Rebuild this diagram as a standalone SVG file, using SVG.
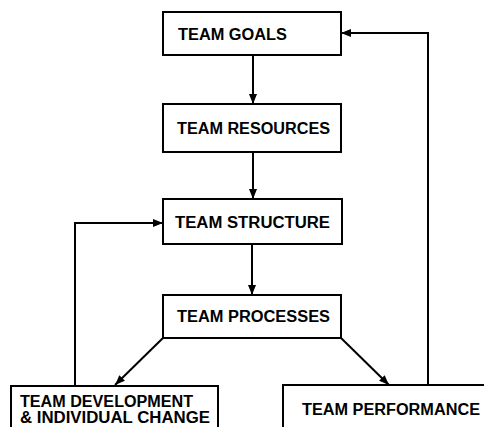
<svg xmlns="http://www.w3.org/2000/svg" width="484" height="427" viewBox="0 0 484 427">
<style>
.box{fill:#fff;stroke:#000;stroke-width:2}
.lbl{font-family:"Liberation Sans",Arial,sans-serif;font-weight:bold;font-size:16px;fill:#000}
.con{fill:none;stroke:#000;stroke-width:2}
</style>
<defs>
<marker id="ah" viewBox="0 0 10 8" refX="10" refY="4" markerWidth="10" markerHeight="8" markerUnits="userSpaceOnUse" orient="auto">
<path d="M0,0 L10,4 L0,8 Z" fill="#000"/>
</marker>
</defs>
<rect width="484" height="427" fill="#fff"/>
<g id="connectors">
<path class="con" d="M253,55 V104" marker-end="url(#ah)"/>
<path class="con" d="M253,152 V199" marker-end="url(#ah)"/>
<path class="con" d="M252,244 V295" marker-end="url(#ah)"/>
<path class="con" d="M163,338 L115,385" marker-end="url(#ah)"/>
<path class="con" d="M341,338 L389,385" marker-end="url(#ah)"/>
<path class="con" d="M75,386 V223 H163" marker-end="url(#ah)"/>
<path class="con" d="M428,385 V33 H341" marker-end="url(#ah)"/>
</g>
<g id="goals">
<rect class="box" x="163" y="12" width="178" height="43"/>
<text class="lbl" x="178" y="40" textLength="109" lengthAdjust="spacingAndGlyphs">TEAM GOALS</text>
</g>
<g id="resources">
<rect class="box" x="163" y="104" width="178" height="48"/>
<text class="lbl" x="177" y="134" textLength="153" lengthAdjust="spacingAndGlyphs">TEAM RESOURCES</text>
</g>
<g id="structure">
<rect class="box" x="163" y="199" width="179" height="45"/>
<text class="lbl" x="175" y="228" textLength="155" lengthAdjust="spacingAndGlyphs">TEAM STRUCTURE</text>
</g>
<g id="processes">
<rect class="box" x="163" y="295" width="178" height="43"/>
<text class="lbl" x="177" y="322" textLength="153" lengthAdjust="spacingAndGlyphs">TEAM PROCESSES</text>
</g>
<g id="development">
<rect class="box" x="11" y="386" width="207" height="60"/>
<text class="lbl" x="20" y="407" textLength="173" lengthAdjust="spacingAndGlyphs">TEAM DEVELOPMENT</text>
<text class="lbl" x="20" y="423" textLength="190" lengthAdjust="spacingAndGlyphs">&amp; INDIVIDUAL CHANGE</text>
</g>
<g id="performance">
<rect class="box" x="283" y="385" width="220" height="60"/>
<text class="lbl" x="302" y="415" textLength="178" lengthAdjust="spacingAndGlyphs">TEAM PERFORMANCE</text>
</g>
</svg>
